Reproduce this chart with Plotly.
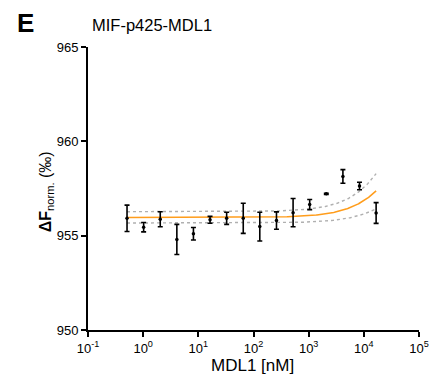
import numpy as np
import plotly.graph_objects as go

# Data
conc_nM = [0.51, 1.02, 2.04, 4.08, 8.15, 16.3, 32.6, 65.2, 130.0, 261.0,
           522.0, 1044.0, 2088.0, 4175.0, 8350.0, 16700.0]
dF_norm = [955.92, 955.45, 955.87, 954.80, 955.10, 955.84, 955.92, 955.92,
           955.48, 955.80, 956.22, 956.65, 957.22, 958.14, 957.63, 956.20]
dF_err = [0.70, 0.25, 0.40, 0.80, 0.33, 0.18, 0.32, 0.80,
          0.76, 0.46, 0.75, 0.27, 0.03, 0.36, 0.20, 0.55]

# Fit parameters (unbound, amplitude, Kd) for fit and confidence bands
fit_params = {"unbound": 955.96, "amp": 9.86, "kd": 1.0e5}
upper_params = {"unbound": 956.27, "amp": 14.1, "kd": 1.0e5}
lower_params = {"unbound": 955.67, "amp": 5.24, "kd": 1.0e5}

x_ticks = [0.1, 1, 10, 100, 1000, 10000, 100000]
x_ticktext = ["10<sup>-1</sup>", "10<sup>0</sup>", "10<sup>1</sup>", "10<sup>2</sup>",
              "10<sup>3</sup>", "10<sup>4</sup>", "10<sup>5</sup>"]
y_ticks = [950, 955, 960, 965]

FONT = "Arial, Liberation Sans, sans-serif"

xs = np.logspace(np.log10(min(conc_nM)), np.log10(max(conc_nM)), 300)


def model(p, c):
    return p["unbound"] + p["amp"] * c / (p["kd"] + c)


fig = go.Figure()
for p in (upper_params, lower_params):
    fig.add_trace(go.Scatter(x=xs, y=model(p, xs), mode="lines",
                             line=dict(color="#b0b0b0", width=1.4, dash="dot"),
                             hoverinfo="skip", showlegend=False))
fig.add_trace(go.Scatter(x=xs, y=model(fit_params, xs), mode="lines",
                         line=dict(color="#FF9D1C", width=1.6),
                         showlegend=False))
fig.add_trace(go.Scatter(x=conc_nM, y=dF_norm, mode="markers",
                         marker=dict(color="black", size=3.5),
                         error_y=dict(type="data", array=dF_err, visible=True,
                                      color="black", thickness=1.6, width=2.5),
                         showlegend=False))

# page body has an 8 px margin, so the figure is shrunk and shifted accordingly
fig.update_layout(
    width=433, height=371,
    margin=dict(l=80, r=14, t=39, b=49),
    paper_bgcolor="white", plot_bgcolor="white",
    font=dict(family=FONT, color="black", size=13),
    xaxis=dict(type="log", range=[-1, 5], tickvals=x_ticks, ticktext=x_ticktext,
               showline=True, linecolor="black", linewidth=2, ticks="outside",
               ticklen=5, tickwidth=2, tickcolor="black", showgrid=False,
               zeroline=False, tickfont=dict(size=13)),
    yaxis=dict(range=[950, 965], tickvals=y_ticks,
               showline=True, linecolor="black", linewidth=2, ticks="outside",
               ticklen=5, tickwidth=2, tickcolor="black", showgrid=False,
               zeroline=False, tickfont=dict(size=13)),
    annotations=[
        dict(text="<b>E</b>", xref="paper", yref="paper", x=-0.222, y=1.145,
             xanchor="left", yanchor="top", showarrow=False,
             font=dict(size=26, family=FONT)),
        dict(text="MIF-p425-MDL1", xref="paper", yref="paper", x=0.005, y=1.078,
             xanchor="left", yanchor="middle", showarrow=False,
             font=dict(size=16.5, family=FONT)),
        dict(text="<b>ΔF</b><sub>norm.</sub> (‰)", xref="paper", yref="paper",
             x=-0.127, y=0.49, xanchor="center", yanchor="middle", textangle=-90,
             showarrow=False, font=dict(size=16, family=FONT)),
        dict(text="MDL1 [nM]", xref="paper", yref="paper", x=0.497, y=-0.125,
             xanchor="center", yanchor="middle", showarrow=False,
             font=dict(size=17, family=FONT)),
    ],
)

fig.write_html("out.html")
